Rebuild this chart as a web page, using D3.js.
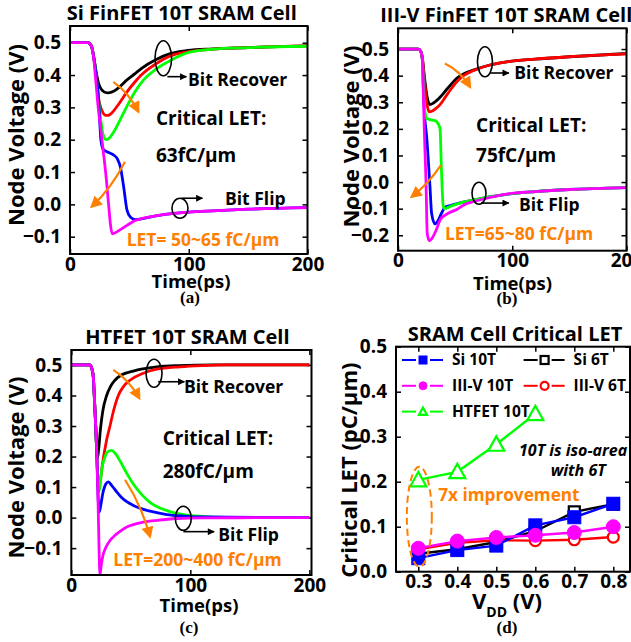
<!DOCTYPE html>
<html>
<head>
<meta charset="utf-8">
<script src="https://cdn.jsdelivr.net/npm/d3@7"></script>
<style>
  body { margin: 0; background: #fff; }
  text { font-family: "Open Sans", Lato, sans-serif; font-weight: bold; }
</style>
</head>
<body>
<svg id="chart" width="631" height="642"></svg>
<script>
// ---- data: [time (ps), node voltage (V)] ----
var siBlack   = [[0,0.5],[15,0.5],[18,0.49],[20,0.455],[22,0.41],[24,0.375],[26,0.358],[28,0.35],[30,0.346],[32,0.345],[35,0.347],[40,0.358],[48,0.385],[55,0.405],[60,0.42],[73,0.449],[85,0.467],[99,0.476],[120,0.481],[150,0.485],[200,0.49]];
var siRed     = [[0,0.5],[15,0.5],[18,0.49],[20,0.455],[22,0.40],[24,0.33],[26,0.298],[28,0.282],[30,0.275],[32,0.275],[35,0.282],[40,0.305],[48,0.348],[55,0.38],[60,0.4],[73,0.436],[85,0.46],[99,0.472],[120,0.48],[150,0.485],[200,0.49]];
var siGreen   = [[0,0.5],[15,0.5],[18,0.49],[20,0.455],[22,0.40],[24,0.33],[26,0.26],[28,0.215],[30.5,0.2],[33,0.205],[37,0.225],[42,0.26],[48,0.304],[55,0.35],[62,0.385],[73,0.42],[85,0.446],[100,0.47],[120,0.48],[150,0.485],[200,0.489]];
var siBlue    = [[0,0.5],[15,0.5],[18,0.49],[20,0.455],[22,0.40],[24,0.33],[26,0.2],[28,0.17],[31,0.163],[34,0.158],[37,0.152],[40,0.14],[42.4,0.116],[45.2,0.054],[48,-0.018],[51,-0.04],[55,-0.047],[60,-0.045],[70,-0.037],[80,-0.031],[90,-0.027],[100,-0.024],[120,-0.02],[150,-0.015],[200,-0.01]];
var siMagenta = [[0,0.5],[15,0.5],[18,0.49],[20,0.45],[22,0.37],[24,0.29],[26,0.23],[28.2,0.158],[30,0.1],[32.5,0.0],[34,-0.06],[35.5,-0.091],[38,-0.088],[42,-0.079],[48,-0.065],[55,-0.05],[60,-0.044],[70,-0.037],[80,-0.031],[90,-0.027],[100,-0.024],[120,-0.02],[150,-0.015],[200,-0.01]];

var ivBlack   = [[0,0.5],[17.8,0.5],[20,0.49],[21.5,0.46],[23,0.4],[25.5,0.32],[28,0.291],[31,0.297],[34,0.307],[37,0.32],[42,0.345],[46,0.365],[51.4,0.39],[58,0.408],[65.9,0.421],[80.5,0.44],[95.1,0.452],[120,0.462],[150,0.471],[200,0.483]];
var ivRed     = [[0,0.5],[17.8,0.5],[20,0.49],[21.5,0.46],[23,0.39],[25.5,0.29],[27.4,0.264],[30,0.267],[33,0.276],[37,0.292],[42,0.323],[46,0.347],[51.4,0.377],[58,0.402],[65.9,0.419],[80.5,0.44],[95.1,0.452],[120,0.462],[150,0.471],[200,0.482]];
var ivGreen   = [[0,0.5],[17.8,0.5],[20,0.49],[21.5,0.45],[22.2,0.36],[23.5,0.27],[25,0.24],[26.3,0.237],[30,0.233],[33,0.23],[35,0.22],[36.8,0.2],[38,0.05],[39.6,-0.09],[41.1,-0.1],[44,-0.095],[51.4,-0.083],[60,-0.073],[66,-0.068],[80,-0.056],[95,-0.046],[120,-0.036],[150,-0.028],[200,-0.021]];
var ivBlue    = [[0,0.5],[17.8,0.5],[20,0.49],[21.5,0.45],[22.2,0.35],[23,0.27],[25.1,0.17],[28,-0.018],[29.4,-0.117],[32.4,-0.157],[35,-0.145],[38,-0.118],[41.1,-0.095],[46,-0.088],[52,-0.081],[60,-0.073],[66,-0.068],[80,-0.056],[95,-0.046],[120,-0.036],[150,-0.028],[200,-0.021]];
var ivMagenta = [[0,0.5],[17.8,0.5],[20,0.49],[21.5,0.45],[22.2,0.33],[23,0.2],[24.5,0.0],[25.6,-0.193],[27.4,-0.221],[30,-0.21],[33,-0.185],[36.8,-0.143],[42,-0.122],[51.4,-0.103],[58,-0.085],[65.9,-0.074],[80.5,-0.058],[95.1,-0.045],[120,-0.036],[150,-0.028],[200,-0.021]];

var htBlack   = [[0,0.5],[15.5,0.5],[17.1,0.49],[18.5,0.46],[19.3,0.4],[20.5,0.3],[21.3,0.22],[22,0.195],[23,0.225],[24.5,0.29],[26.5,0.35],[29.7,0.4],[33,0.43],[36.7,0.45],[42,0.467],[52.1,0.48],[60,0.487],[71.8,0.494],[90,0.498],[120,0.5],[200,0.5]];
var htRed     = [[0,0.5],[15.5,0.5],[17.1,0.49],[18.5,0.46],[19.3,0.4],[20.5,0.3],[21.5,0.2],[22.6,0.1],[23.3,0.097],[24.1,0.113],[26,0.17],[29.7,0.255],[32.5,0.3],[35.5,0.35],[39.5,0.4],[44,0.43],[49.3,0.45],[60,0.472],[71.8,0.486],[91.3,0.494],[110,0.498],[130,0.5],[200,0.5]];
var htGreen   = [[0,0.5],[15.5,0.5],[17.1,0.49],[18.5,0.46],[19.3,0.4],[20.5,0.3],[21.5,0.2],[22.4,0.11],[23.3,0.085],[24.3,0.11],[25.5,0.155],[28,0.195],[30.5,0.215],[33.9,0.22],[37,0.21],[41,0.185],[46.6,0.145],[52.1,0.11],[60,0.072],[66.1,0.05],[80.2,0.023],[94.1,0.01],[110,0.004],[130,0.001],[200,0]];
var htBlue    = [[0,0.5],[15.5,0.5],[17.1,0.49],[18.5,0.46],[19.3,0.4],[20.5,0.3],[21.5,0.2],[22.5,0.07],[23.5,0.018],[24.5,0.035],[26.5,0.08],[29,0.11],[31.1,0.117],[34,0.105],[38,0.085],[42,0.067],[46.6,0.052],[52.1,0.04],[60,0.028],[66.1,0.021],[80.2,0.01],[94.1,0.005],[110,0.002],[200,0]];
var htMagenta = [[0,0.5],[15.5,0.5],[17.1,0.49],[18.5,0.46],[19.3,0.4],[20.5,0.3],[21.5,0.2],[22.5,0.05],[23.3,-0.1],[24.1,-0.188],[25,-0.16],[26.5,-0.125],[29,-0.098],[32.5,-0.075],[36.7,-0.058],[41,-0.045],[46.6,-0.031],[52.1,-0.023],[60.5,-0.015],[71.8,-0.009],[88.6,-0.003],[110,-0.001],[200,0]];

// panel (d): critical LET (pC/um) vs VDD (V)
var vdd      = [0.3, 0.4, 0.5, 0.6, 0.7, 0.8];
var vddHT    = [0.3, 0.4, 0.5, 0.6];
var si10T    = [0.030, 0.048, 0.058, 0.103, 0.121, 0.151];
var si6T     = [0.040, 0.050, 0.066, 0.090, 0.133, 0.150];
var iiiv10T  = [0.052, 0.068, 0.076, 0.081, 0.087, 0.100];
var iiiv6T   = [0.050, 0.064, 0.070, 0.069, 0.071, 0.077];
var htfet10T = [0.204, 0.222, 0.283, 0.351];

var timeTicks = [0, 100, 200];
var vddTicks  = [0.3, 0.4, 0.5, 0.6, 0.7, 0.8];

var ORANGE = "#ff8000";
var COL = {black: "#000", red: "#ff0000", green: "#00ff00", blue: "#0000ff", magenta: "#ff00ff"};

var svg = d3.select("#chart");
var defs = svg.append("defs");

// arrow heads
defs.append("marker").attr("id", "headK")
    .attr("viewBox", "0 0 10 10").attr("refX", 9).attr("refY", 5)
    .attr("markerWidth", 9).attr("markerHeight", 7).attr("markerUnits", "userSpaceOnUse")
    .attr("orient", "auto")
  .append("path").attr("d", "M0,0 L10,5 L0,10 z").attr("fill", "#000");
defs.append("marker").attr("id", "headO")
    .attr("viewBox", "0 0 10 10").attr("refX", 8).attr("refY", 5)
    .attr("markerWidth", 14).attr("markerHeight", 12).attr("markerUnits", "userSpaceOnUse")
    .attr("orient", "auto")
  .append("path").attr("d", "M0,0 L10,5 L0,10 z").attr("fill", ORANGE);

var clipN = 0;

function panel(cfg) {
    var g = svg.append("g");
    var x = d3.scaleLinear().domain(cfg.xDomain).range([cfg.left, cfg.right]);
    var y = d3.scaleLinear().domain(cfg.yDomain).range([cfg.bottom, cfg.top]);

    var id = "clip" + (clipN++);
    defs.append("clipPath").attr("id", id)
      .append("rect").attr("x", cfg.left).attr("y", cfg.top)
      .attr("width", cfg.right - cfg.left).attr("height", cfg.bottom - cfg.top);

    // axes, ticks pointing inward
    var ax = [
        g.append("g").attr("transform", "translate(" + cfg.left + ",0)")
          .call(d3.axisLeft(y).tickValues(cfg.yTicks).tickSize(-5).tickPadding(9).tickFormat(d3.format(".1f"))),
        g.append("g").attr("transform", "translate(" + cfg.right + ",0)")
          .call(d3.axisRight(y).tickValues(cfg.yTicks).tickSize(-5).tickFormat("")),
        g.append("g").attr("transform", "translate(0," + cfg.bottom + ")")
          .call(d3.axisBottom(x).tickValues(cfg.xTicks).tickSize(-5).tickPadding(3).tickFormat(cfg.xFormat)),
        g.append("g").attr("transform", "translate(0," + cfg.top + ")")
          .call(d3.axisTop(x).tickValues(cfg.xTicks).tickSize(-5).tickFormat(""))
    ];
    ax.forEach(function(a) {
        a.select(".domain").remove();
        a.selectAll("line").attr("stroke", "#000").attr("stroke-width", 1.5);
        a.selectAll("text").attr("font-size", "19px").attr("fill", "#000")
          .attr("font-family", "'Open Sans', Lato, sans-serif").attr("font-weight", "bold");
    });

    var plot = g.append("g").attr("clip-path", "url(#" + id + ")");

    g.append("rect").attr("x", cfg.left).attr("y", cfg.top)
      .attr("width", cfg.right - cfg.left).attr("height", cfg.bottom - cfg.top)
      .attr("fill", "none").attr("stroke", "#000").attr("stroke-width", 2);

    // title
    g.append("text").attr("x", (cfg.left + cfg.right) / 2 + (cfg.titleDx || 0)).attr("y", cfg.top - 6)
      .attr("text-anchor", "middle").attr("font-size", "20px").text(cfg.title);
    // y label
    g.append("text")
      .attr("transform", "translate(" + cfg.yLabelX + "," + ((cfg.top + cfg.bottom) / 2 + (cfg.yLabelDy || 0)) + ") rotate(-90)")
      .attr("text-anchor", "middle").attr("font-size", "22px").text(cfg.yLabel);

    return {g: g, plot: plot, x: x, y: y};
}

function curves(p, list) {
    var line = d3.line()
        .x(function(d) { return p.x(d[0]); })
        .y(function(d) { return p.y(d[1]); })
        .curve(d3.curveMonotoneX);
    list.forEach(function(s) {
        p.plot.append("path").datum(s[0]).attr("d", line)
          .attr("fill", "none").attr("stroke", s[1]).attr("stroke-width", 2.8)
          .attr("stroke-linejoin", "round");
    });
}

// annotations placed in data units of each panel
function notes(p, a) {
    var g = p.g, x = p.x, y = p.y;
    // bit recover group
    g.append("ellipse").attr("cx", x(a.rec[0])).attr("cy", y(a.rec[1])).attr("rx", a.rec[2]).attr("ry", a.rec[3])
      .attr("fill", "none").attr("stroke", "#000").attr("stroke-width", 1.6);
    g.append("line").attr("x1", x(a.recArrow[0])).attr("x2", x(a.recArrow[1]))
      .attr("y1", y(a.recArrow[2])).attr("y2", y(a.recArrow[2]))
      .attr("stroke", "#000").attr("stroke-width", 1.6).attr("marker-end", "url(#headK)");
    g.append("text").attr("x", x(a.recText[0])).attr("y", y(a.recText[1])).attr("dy", "0.35em")
      .attr("font-size", "17.5px").text("Bit Recover");
    // bit flip group
    g.append("ellipse").attr("cx", x(a.flip[0])).attr("cy", y(a.flip[1])).attr("rx", a.flip[2]).attr("ry", a.flip[3])
      .attr("fill", "none").attr("stroke", "#000").attr("stroke-width", 1.6);
    g.append("line").attr("x1", x(a.flipArrow[0])).attr("x2", x(a.flipArrow[1]))
      .attr("y1", y(a.flipArrow[2])).attr("y2", y(a.flipArrow[2]))
      .attr("stroke", "#000").attr("stroke-width", 1.6).attr("marker-end", "url(#headK)");
    g.append("text").attr("x", x(a.flipText[0])).attr("y", y(a.flipText[1])).attr("dy", "0.35em")
      .attr("font-size", "17.5px").text("Bit Flip");
    // critical LET
    g.append("text").attr("x", x(a.crit[0])).attr("y", y(a.crit[1])).attr("dy", "0.35em")
      .attr("font-size", "19px").text("Critical LET:");
    g.append("text").attr("x", x(a.crit[0])).attr("y", y(a.crit[2])).attr("dy", "0.35em")
      .attr("font-size", "19px").text(a.critVal);
    // orange sweep arrows
    [a.oRec, a.oFlip].forEach(function(o) {
        var x0 = x(o[0]), y0 = y(o[1]), x1 = x(o[2]), y1 = y(o[3]);
        var cx = (x0 + x1) / 2 + o[4], cy = (y0 + y1) / 2 + o[5];
        g.append("path").attr("d", "M" + x0 + "," + y0 + " Q" + cx + "," + cy + " " + x1 + "," + y1)
          .attr("fill", "none").attr("stroke", ORANGE).attr("stroke-width", 2.2)
          .attr("marker-end", "url(#headO)");
    });
    g.append("text").attr("x", x(a.let[0])).attr("y", y(a.let[1])).attr("dy", "0.35em")
      .attr("font-size", "17.5px").attr("fill", ORANGE).text(a.letText);
}

function sub(cx, cy1, cx2, cy2, xt, lab) {
    svg.append("text").attr("x", cx).attr("y", cy1).attr("text-anchor", "middle")
      .attr("font-size", "18.5px").text(xt);
    svg.append("text").attr("x", cx2).attr("y", cy2).attr("text-anchor", "middle")
      .attr("font-size", "17px").attr("font-weight", "normal")
      .style("font-family", "'Liberation Serif', 'Times New Roman', serif").text(lab);
}

// ---------------- (a) ----------------
var pa = panel({left: 70, right: 307.5, top: 26, bottom: 254,
    xDomain: [0, 200], yDomain: [-0.1535, 0.5517],
    xTicks: timeTicks, yTicks: [-0.1, 0, 0.1, 0.2, 0.3, 0.4, 0.5], xFormat: d3.format("d"),
    title: "Si FinFET 10T SRAM Cell", titleDx: -7, yLabel: "Node Voltage (V)", yLabelX: 24, yLabelDy: -5});
curves(pa, [[siBlack, COL.black], [siRed, COL.red], [siGreen, COL.green], [siBlue, COL.blue], [siMagenta, COL.magenta]]);
notes(pa, {rec: [78.6, 0.452, 8.3, 17.5], recArrow: [82, 98, 0.395], recText: [99.4, 0.385],
    flip: [92.6, -0.012, 8, 10], flipArrow: [94, 111.5, 0.019], flipText: [130.5, 0.016],
    crit: [72.4, 0.266, 0.153], critVal: "63fC/\u03bcm",
    oRec: [36.5, 0.379, 57.5, 0.287, 3, -4], oFlip: [46.3, 0.132, 18.3, -0.007, 3, 4],
    let: [47.7, -0.11], letText: "LET= 50~65 fC/\u03bcm"});
sub(191, 288, 190, 303, "Time(ps)", "(a)");

// ---------------- (b) ----------------
var pb = panel({left: 398, right: 626.5, top: 28.3, bottom: 250.7,
    xDomain: [0, 200], yDomain: [-0.258, 0.578],
    xTicks: timeTicks, yTicks: [-0.2, -0.1, 0, 0.1, 0.2, 0.3, 0.4, 0.5], xFormat: d3.format("d"),
    title: "III-V FinFET 10T SRAM Cell", titleDx: -6, yLabel: "Node Voltage (V)", yLabelX: 359, yLabelDy: -3});
curves(pb, [[ivBlack, COL.black], [ivRed, COL.red], [ivBlue, COL.blue], [ivGreen, COL.green], [ivMagenta, COL.magenta]]);
notes(pb, {rec: [76.1, 0.452, 7.5, 15], recArrow: [80.5, 97, 0.41], recText: [101.8, 0.409],
    flip: [70.9, -0.042, 7, 11], flipArrow: [72.6, 97, -0.079], flipText: [105.9, -0.086],
    crit: [68.3, 0.214, 0.101], critVal: "75fC/\u03bcm",
    oRec: [41.1, 0.446, 63, 0.358, 3, -4], oFlip: [37.6, 0.064, 12, -0.055, 2, 3],
    let: [41.1, -0.193], letText: "LET=65~80 fC/\u03bcm"});
sub(512.5, 290, 507, 304, "Time(ps)", "(b)");

// ---------------- (c) ----------------
var pc = panel({left: 71.3, right: 311.5, top: 350, bottom: 575,
    xDomain: [0, 201.8], yDomain: [-0.188, 0.549],
    xTicks: timeTicks, yTicks: [-0.1, 0, 0.1, 0.2, 0.3, 0.4, 0.5], xFormat: d3.format("d"),
    title: "HTFET 10T SRAM Cell", titleDx: -4, yLabel: "Node Voltage (V)", yLabelX: 24, yLabelDy: 5});
curves(pc, [[htBlack, COL.black], [htRed, COL.red], [htGreen, COL.green], [htBlue, COL.blue], [htMagenta, COL.magenta]]);
notes(pc, {rec: [69.5, 0.473, 8, 14], recArrow: [72.9, 95, 0.445], recText: [94.7, 0.429],
    flip: [94.1, -0.002, 8, 12], flipArrow: [94.1, 120, -0.046], flipText: [123.5, -0.056],
    crit: [76.8, 0.26, 0.151], critVal: "280fC/\u03bcm",
    oRec: [35.3, 0.484, 57.1, 0.391, 3, -4], oFlip: [45.1, 0.124, 66.1, -0.062, 4, -3],
    let: [35.3, -0.138], letText: "LET=200~400 fC/\u03bcm"});
sub(199, 611.5, 189, 633, "Time(ps)", "(c)");

// ---------------- (d) ----------------
var pd = panel({left: 396, right: 630, top: 346.7, bottom: 571.7,
    xDomain: [0.2428, 0.8428], yDomain: [0, 0.5],
    xTicks: vddTicks, yTicks: [0, 0.1, 0.2, 0.3, 0.4, 0.5], xFormat: d3.format(".1f"),
    title: "SRAM Cell Critical LET", titleDx: 2, yLabel: "Critical LET (pC/\u03bcm)", yLabelX: 357, yLabelDy: 11});

var letSeries = [
    {name: "Si 6T", xs: vdd, ys: si6T, color: COL.black, shape: "square", fill: "#fff", size: 11},
    {name: "III-V 6T", xs: vdd, ys: iiiv6T, color: COL.red, shape: "circle", fill: "#fff", size: 11},
    {name: "Si 10T", xs: vdd, ys: si10T, color: COL.blue, shape: "square", fill: COL.blue, size: 13},
    {name: "III-V 10T", xs: vdd, ys: iiiv10T, color: COL.magenta, shape: "circle", fill: COL.magenta, size: 14},
    {name: "HTFET 10T", xs: vddHT, ys: htfet10T, color: COL.green, shape: "triangle", fill: "#fff", size: 16}
];

function marker(g, s, cx, cy, size) {
    var r = size / 2, m;
    if (s.shape === "square") {
        m = g.append("rect").attr("x", cx - r).attr("y", cy - r).attr("width", size).attr("height", size);
    } else if (s.shape === "circle") {
        m = g.append("circle").attr("cx", cx).attr("cy", cy).attr("r", r);
    } else {
        m = g.append("path").attr("d", "M" + cx + "," + (cy - r) + " L" + (cx + r) + "," + (cy + r * 0.8) +
            " L" + (cx - r) + "," + (cy + r * 0.8) + " Z");
    }
    m.attr("fill", s.fill).attr("stroke", s.color).attr("stroke-width", s.fill === "#fff" ? 2.2 : 1);
}

var ptLine = d3.line().x(function(d) { return pd.x(d[0]); }).y(function(d) { return pd.y(d[1]); });
letSeries.forEach(function(s) {
    var pts = s.xs.map(function(v, i) { return [v, s.ys[i]]; });
    pd.plot.append("path").datum(pts).attr("d", ptLine)
      .attr("fill", "none").attr("stroke", s.color).attr("stroke-width", 2.4);
    pts.forEach(function(p) { marker(pd.plot, s, pd.x(p[0]), pd.y(p[1]), s.size); });
});

// legend
var legendPos = {"Si 10T": [0, 0], "Si 6T": [1, 0], "III-V 10T": [0, 1], "III-V 6T": [1, 1], "HTFET 10T": [0, 2]};
letSeries.forEach(function(s) {
    var c = legendPos[s.name];
    var x0 = 402 + c[0] * 121.6, yy = 360 + c[1] * 25.8, xm = x0 + 21;
    pd.g.append("line").attr("x1", x0).attr("x2", xm - 7).attr("y1", yy).attr("y2", yy)
      .attr("stroke", s.color).attr("stroke-width", 2);
    pd.g.append("line").attr("x1", xm + 7).attr("x2", x0 + 41).attr("y1", yy).attr("y2", yy)
      .attr("stroke", s.color).attr("stroke-width", 2);
    marker(pd.g, s, xm, yy, 8);
    pd.g.append("text").attr("x", x0 + 50).attr("y", yy).attr("dy", "0.35em")
      .attr("font-size", "15.5px").text(s.name);
});

// notes in (d)
pd.g.append("ellipse").attr("cx", pd.x(0.3026)).attr("cy", pd.y(0.122)).attr("rx", 12.5).attr("ry", 50)
  .attr("fill", "none").attr("stroke", ORANGE).attr("stroke-width", 2).attr("stroke-dasharray", "7,4");
pd.g.append("text").attr("x", pd.x(0.351)).attr("y", pd.y(0.17)).attr("dy", "0.35em")
  .attr("font-size", "17.2px").attr("fill", ORANGE).text("7x improvement");
pd.g.append("text").attr("x", pd.x(0.697)).attr("y", pd.y(0.27)).attr("dy", "0.35em")
  .attr("text-anchor", "middle").attr("font-size", "16px").attr("font-style", "italic").text("10T is iso-area");
pd.g.append("text").attr("x", pd.x(0.71)).attr("y", pd.y(0.226)).attr("dy", "0.35em")
  .attr("text-anchor", "middle").attr("font-size", "16px").attr("font-style", "italic").text("with 6T");

// x label with subscript
var vx = svg.append("text").attr("x", 507).attr("y", 609).attr("text-anchor", "middle").attr("font-size", "22px");
vx.append("tspan").text("V");
vx.append("tspan").attr("font-size", "14px").attr("dy", "8").text("DD");
vx.append("tspan").attr("dy", "-8").text(" (V)");
svg.append("text").attr("x", 507).attr("y", 633).attr("text-anchor", "middle")
  .attr("font-size", "17px").attr("font-weight", "normal")
  .style("font-family", "'Liberation Serif', 'Times New Roman', serif").text("(d)");
</script>
</body>
</html>
